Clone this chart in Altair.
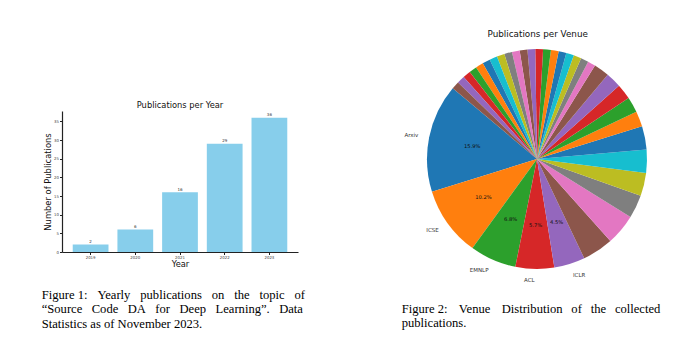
import math
import altair as alt
import pandas as pd

# ---------------- data ----------------
years = ["2019", "2020", "2021", "2022", "2023"]
year_counts = [2, 6, 16, 29, 36]
y_tick_values = [0, 5, 10, 15, 20, 25, 30, 35]

venue_names = [
    "Arxiv", "ICSE", "EMNLP", "ACL", "ICLR",
    "Venue 6", "Venue 7", "Venue 8", "Venue 9", "Venue 10", "Venue 11",
    "Venue 12", "Venue 13", "Venue 14", "Venue 15", "Venue 16",
    "Venue 17", "Venue 18", "Venue 19", "Venue 20", "Venue 21",
    "Venue 22", "Venue 23", "Venue 24", "Venue 25", "Venue 26",
    "Venue 27", "Venue 28", "Venue 29", "Venue 30", "Venue 31",
    "Venue 32", "Venue 33", "Venue 34", "Venue 35", "Venue 36",
]
venue_counts = [
    14, 9, 6, 5, 4,
    4, 4, 3, 3, 3, 3,
    2, 2, 2, 2, 2,
    1, 1, 1, 1, 1,
    1, 1, 1, 1, 1,
    1, 1, 1, 1, 1,
    1, 1, 1, 1, 1,
]
labeled_venues = ["Arxiv", "ICSE", "EMNLP", "ACL", "ICLR"]

G1 = "\u00a0\u00a0\u2009\u200a"
G2 = "\u00a0\u00a0\u00a0"
G3 = "\u2002\u2009"
caption_left = [
    "Figure\u00a01:" + G1 + "Yearly" + G1 + "publications" + G1 + "on" + G1 + "the" + G1 + "topic" + G1 + "of",
    "\u201cSource" + G2 + "Code" + G2 + "DA" + G2 + "for" + G2 + "Deep" + G2 + "Learning\u201d." + G2 + "Data",
    "Statistics as of November 2023.",
]
caption_right = [
    "Figure\u00a02:" + G3 + "\u2009" + "Venue" + G3 + "\u2009" + "Distribution" + G3 + "of" + G3 + "the" + G3 + "collected",
    "publications.",
]

TAB10 = ["#1f77b4", "#ff7f0e", "#2ca02c", "#d62728", "#9467bd",
         "#8c564b", "#e377c2", "#7f7f7f", "#bcbd22", "#17becf"]
START_ANGLE = 140  # matplotlib-style start angle, counter-clockwise

# ---------------- frames ----------------
bars_df = pd.DataFrame({"year": years, "count": year_counts})
pie_df = pd.DataFrame({
    "venue": venue_names,
    "count": venue_counts,
    "idx": list(range(len(venue_names))),
    "label": [v if v in labeled_venues else "" for v in venue_names],
})
total = sum(venue_counts)
pie_colors = [TAB10[i % 10] for i in range(len(venue_names))]

# plot origin (left/top padding) for the layered canvas
OX, OY = 62, 111
W, H = 236, 141
CX, CY = 537 - OX, 159 - OY
R = 110

# ---------------- bar chart ----------------
x_scale = alt.Scale(paddingInner=0.2, paddingOuter=0.24)
y_scale = alt.Scale(domain=[0, max(year_counts) * 1.05], nice=False, zero=True)

x_axis = alt.Axis(
    title="Year", labelAngle=0, labelFontSize=3.9, labelColor="#444",
    tickSize=2.5, tickColor="#222", domainColor="#222", domainWidth=1.2,
    labelPadding=1, grid=False, titleFontSize=8.3, titleFontWeight="normal",
    titleColor="#111", titleX=W / 2, titleY=12, titleAlign="center",
    titleBaseline="middle",
)
y_axis = alt.Axis(
    values=y_tick_values, tickCount=len(y_tick_values), labelOverlap=False,
    title="Number of Publications",
    labelFontSize=3.9, labelColor="#444", tickSize=2.5, tickColor="#222",
    domainColor="#222", domainWidth=1.2, labelPadding=1, grid=False,
    titleFontSize=8.4, titleFontWeight="normal", titleColor="#111",
    titleAngle=270, titleX=-14.5, titleY=H / 2, titleAlign="center",
    titleBaseline="middle",
)

bars = alt.Chart(bars_df).mark_bar(color="#87CEEB").encode(
    x=alt.X("year:O", scale=x_scale, axis=x_axis),
    y=alt.Y("count:Q", scale=y_scale, axis=y_axis),
)
bar_labels = alt.Chart(bars_df).mark_text(
    fontSize=4, baseline="alphabetic", dy=-1.5, color="#333"
).encode(
    x=alt.X("year:O", scale=x_scale, axis=x_axis),
    y=alt.Y("count:Q", scale=y_scale, axis=y_axis),
    text="count:Q",
)

# ---------------- pie chart ----------------
t0 = math.radians(90 - START_ANGLE)
theta_scale = alt.Scale(domain=[0, total], range=[t0, t0 - 2 * math.pi], nice=False, zero=True)

arcs = alt.Chart(pie_df).mark_arc(radius=R, strokeWidth=0).encode(
    theta=alt.Theta("count:Q", stack=True, scale=theta_scale),
    color=alt.Color("venue:N", scale=alt.Scale(domain=venue_names, range=pie_colors), legend=None),
    order=alt.Order("idx:Q", sort="ascending"),
    x=alt.value(CX),
    y=alt.value(CY),
)

pie_base = (
    alt.Chart(pie_df)
    .transform_joinaggregate(total="sum(count)")
    .transform_window(cum="sum(count)", sort=[alt.SortField("idx")], frame=[None, 0])
    .transform_calculate(
        midc="datum.cum - datum.count / 2",
    )
    .transform_calculate(
        side=f"cos(({START_ANGLE} + 360 * datum.midc / datum.total) * PI / 180) > 0 ? 'left' : 'right'",
        pct="datum.label != '' ? format(datum.count / datum.total, '.1%') : ''",
    )
    .transform_calculate(
        labL="datum.side == 'left' ? datum.label : ''",
        labR="datum.side == 'right' ? datum.label : ''",
    )
)
theta_mid = alt.Theta("midc:Q", stack=None, scale=theta_scale)

lbl_left = pie_base.mark_text(radius=R * 1.1, align="left", baseline="middle",
                              fontSize=5.5, color="#333").encode(
    theta=theta_mid, text="labL:N", x=alt.value(CX), y=alt.value(CY))
lbl_right = pie_base.mark_text(radius=R * 1.1, align="right", baseline="middle",
                               fontSize=5.5, color="#333").encode(
    theta=theta_mid, text="labR:N", x=alt.value(CX), y=alt.value(CY))
pct_text = pie_base.mark_text(radius=R * 0.6, align="center", baseline="middle",
                              fontSize=5.2, color="#111").encode(
    theta=theta_mid, text="pct:N", x=alt.value(CX), y=alt.value(CY))


# ---------------- titles & captions ----------------
def text_layer(s, x, y, size, font="DejaVu Sans", align="left",
               baseline="alphabetic", color="#111"):
    return alt.Chart(pd.DataFrame({"t": [s]})).mark_text(
        align=align, baseline=baseline, fontSize=size, font=font, color=color
    ).encode(text="t:N", x=alt.value(x), y=alt.value(y))


texts = [
    text_layer("Publications per Year", W / 2, 105.7 - OY, 8.3, align="center", baseline="middle"),
    text_layer("Publications per Venue", 537.7 - OX, 34.3 - OY, 8.8, align="center", baseline="middle"),
]
for i, line in enumerate(caption_left):
    texts.append(text_layer(line, 41.7 - OX, 298.7 + 14.5 * i - OY, 12.6, font="Liberation Serif", color="#000"))
for i, line in enumerate(caption_right):
    texts.append(text_layer(line, 401.7 - OX, 312.7 + 14.6 * i - OY, 12.6, font="Liberation Serif", color="#000"))

chart = alt.layer(
    bars, bar_labels, arcs, lbl_left, lbl_right, pct_text, *texts
).resolve_scale(
    color="independent"
).properties(
    width=W, height=H,
    autosize=alt.AutoSizeParams(type="none"),
    padding={"left": OX, "top": OY, "right": 700 - OX - W, "bottom": 355 - OY - H},
    background="white",
).configure(
    font="DejaVu Sans"
).configure_view(
    stroke=None
)

chart.save("out.html", embed_options={"renderer": "svg", "actions": False})
